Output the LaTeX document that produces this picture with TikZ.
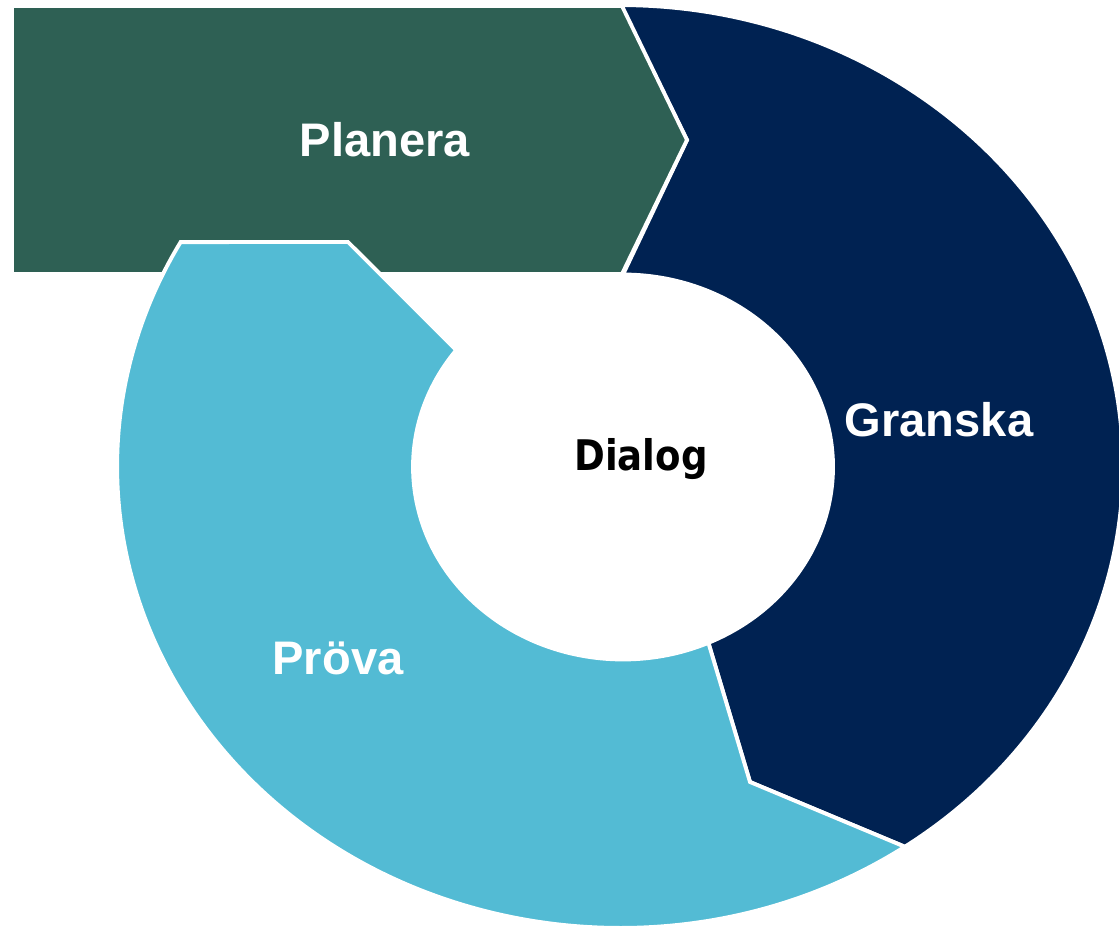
\documentclass[tikz,border=0pt]{standalone}
\usepackage{fontspec}
\setmainfont{Liberation Sans}
\newfontfamily\dialogfont[FakeStretch=0.88]{DejaVu Sans}

\definecolor{planera-green}{RGB}{46,96,84}
\definecolor{granska-navy}{RGB}{0,34,82}
\definecolor{prova-blue}{RGB}{83,187,212}

\tikzstyle{part} = [draw=white, line width=2.2pt, line join=miter]
\tikzstyle{planera-part} = [part, fill=planera-green]
\tikzstyle{granska-part} = [part, fill=granska-navy]
\tikzstyle{prova-part} = [part, fill=prova-blue]
\tikzstyle{label} = [anchor=base, text=white, font=\fontsize{26.8}{32}\selectfont\bfseries]

\begin{document}
\begin{tikzpicture}[x=0.02cm, y=0.02cm]

	\useasboundingbox (0,0) rectangle (1119,930);
	\coordinate (outer) at (620,463.5);
	\coordinate (inner) at (623,463);

	% ring parts
	\filldraw [granska-part] ([shift={(outer)}]90:10.06cm and 9.23cm) arc[start angle=90, end angle=-55.5, x radius=10.06cm, y radius=9.23cm] -- (750,148) -- ([shift={(inner)}]-66:4.2cm and 3.85cm) arc[start angle=-66, end angle=90, x radius=4.2cm, y radius=3.85cm] -- (687,790) -- cycle;

	\filldraw [planera-part] (12,924) -- (622,924) -- (687,790) -- (622,656) -- (12,656) -- cycle;

	\filldraw [prova-part] ([shift={(outer)}]-55.5:10.06cm and 9.23cm) arc[start angle=-55.5, end angle=-209.1, x radius=10.06cm, y radius=9.23cm] -- (348,688) -- ([shift={(inner)}]142.6:4.2cm and 3.85cm) arc[start angle=142.6, end angle=294, x radius=4.2cm, y radius=3.85cm] -- (750,148) -- cycle;

	% labels
	\node [label] (planera) at (385,773) {Planera};
	\node [label] (granska) at (939,493) {Granska};
	\node [label] (prova) at (338,255) {Pröva};
	\node [anchor=base, font=\dialogfont\fontsize{24}{28}\selectfont\bfseries] (dialog) at (641,459) {Dialog};

\end{tikzpicture}
\end{document}
